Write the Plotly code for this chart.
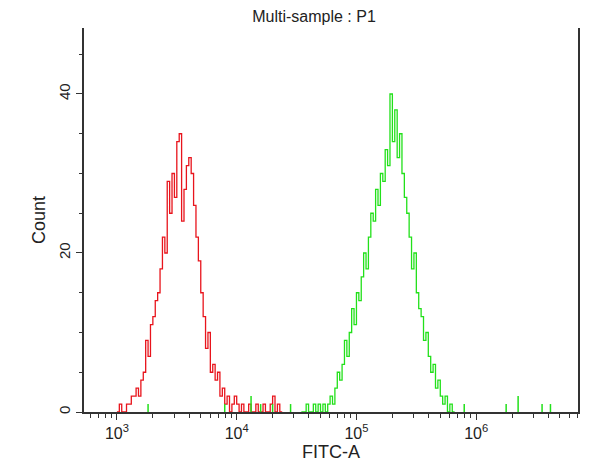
import numpy as np
import plotly.graph_objects as go

# red histogram: counts per log10 bin, starting at 10^3.00, step 0.02
red_start = 3.00
red_counts = [0, 1, 0, 0, 1, 1, 2, 2, 3, 2, 4, 5, 9, 7, 11, 12, 14, 15, 18, 22,
              20, 29, 25, 30, 27, 34, 35, 24, 28, 31, 32, 30, 26, 22, 19, 15, 12, 8, 10, 5,
              6, 4, 5, 2, 3, 1, 2, 0, 1, 2, 1, 0, 1, 0, 0, 1, 0, 0, 1, 0,
              0, 1, 0, 0, 1, 2, 0, 1, 0]
# green histogram, starting at 10^4.54, step 0.02
green_start = 4.54
green_counts = [0, 0, 1, 0, 0, 1, 0, 1, 0, 1, 0, 1, 2, 1, 3, 5, 4, 6, 9, 7,
                10, 13, 11, 15, 14, 17, 20, 18, 22, 25, 24, 28, 26, 30, 29, 33, 31, 40, 34, 38,
                32, 35, 30, 27, 25, 22, 18, 20, 15, 13, 12, 9, 10, 7, 5, 6, 3, 4, 2, 1,
                2, 0, 1, 0]
bin_step = 0.02
# scattered green events along the baseline (log10 position, count)
spike_logs = [3.26, 3.90, 4.12, 4.20, 4.30, 4.45, 5.90, 6.25, 6.35, 6.55, 6.62]
spike_counts = [1, 1, 2, 1, 1, 1, 1, 1, 2, 1, 1]

def step_xy(start, counts):
    x = 10 ** (start + bin_step * np.arange(len(counts) + 1))
    y = list(counts) + [counts[-1]]
    return x, y

fig = go.Figure()
rx, ry = step_xy(red_start, red_counts)
fig.add_trace(go.Scatter(x=rx, y=ry, mode="lines", line=dict(color="#e8141c", width=1.3, shape="hv")))
gx, gy = step_xy(green_start, green_counts)
fig.add_trace(go.Scatter(x=gx, y=gy, mode="lines", line=dict(color="#22e01a", width=1.3, shape="hv")))
sx, sy = [], []
for lg, c in zip(spike_logs, spike_counts):
    sx += [10 ** lg, 10 ** lg, None]
    sy += [0, c, None]
fig.add_trace(go.Scatter(x=sx, y=sy, mode="lines", line=dict(color="#22e01a", width=1.5)))

minor_vals = [m * 10 ** d for d in range(2, 7) for m in range(2, 10)]
fig.update_layout(
    width=600, height=476, showlegend=False,
    paper_bgcolor="white", plot_bgcolor="white",
    margin=dict(l=76, r=30, t=20, b=72, autoexpand=False),
    font=dict(family="Liberation Sans, Arial", size=15, color="#222"),
    title=dict(text="Multi-sample : P1", x=0.51, y=0.995, yanchor="top", font=dict(size=16), automargin=False),
    xaxis=dict(type="log", range=[2.725, 6.85], showgrid=False, zeroline=False, automargin=False,
               showline=True, linecolor="#333", linewidth=1.5,
               tickvals=[1e3, 1e4, 1e5, 1e6],
               ticktext=["10<sup>3</sup>", "10<sup>4</sup>", "10<sup>5</sup>", "10<sup>6</sup>"],
               ticks="outside", ticklen=6, tickcolor="#333", tickfont=dict(size=16),
               minor=dict(tickvals=minor_vals, ticks="outside", ticklen=4, tickcolor="#333"),
               title=dict(text="FITC-A", standoff=2)),
    yaxis=dict(range=[0, 48.3], showgrid=False, zeroline=False, automargin=False,
               showline=True, linecolor="#333", linewidth=1.5, mirror=True,
               tickvals=[0, 20, 40], ticks="outside", ticklen=6, tickcolor="#333",
               tickangle=-90,
               minor=dict(dtick=5, ticks="outside", ticklen=3, tickcolor="#333"),
               title=dict(text="Count", standoff=6)),
)
fig.write_html("out.html")
